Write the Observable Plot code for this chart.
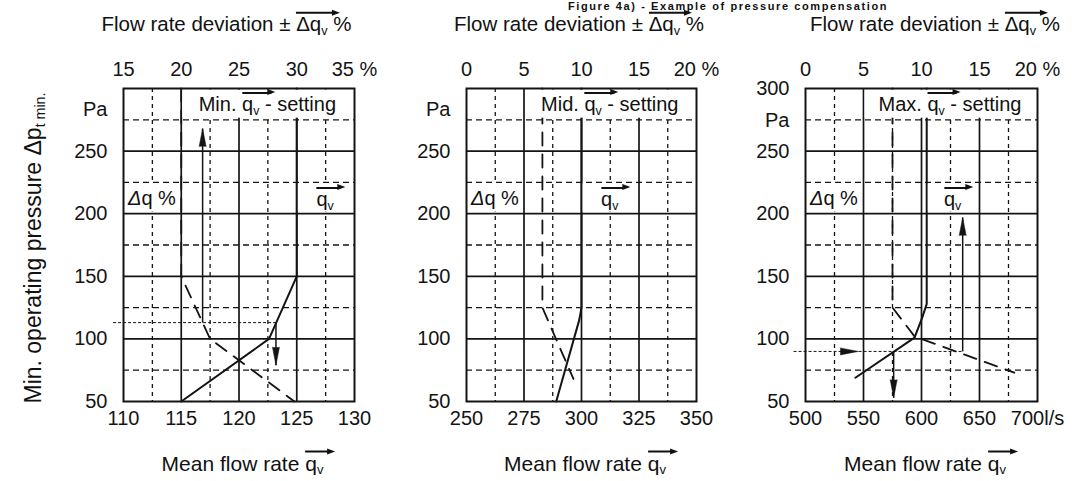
<!DOCTYPE html>
<html>
<head>
<meta charset="utf-8">
<script src="https://cdn.jsdelivr.net/npm/d3@7"></script>
<script src="https://cdn.jsdelivr.net/npm/@observablehq/plot@0.6"></script>
<style>
  body { margin: 0; background: #fff; }
  #root { position: relative; width: 1077px; height: 481px; overflow: hidden;
          font-family: "Liberation Sans", Arial, Helvetica, sans-serif; color: #111; background: #fff; }
  #root svg { position: absolute; top: 0; }
  .lbl { position: absolute; white-space: nowrap; line-height: 1; }
  .ov { position: relative; display: inline-block; }
  .ov::before { content: ""; position: absolute; left: 0; right: -6px; top: -2px; border-top: 2px solid #111; }
  .ov::after { content: ""; position: absolute; right: -12px; top: -4.5px; border-left: 8px solid #111;
               border-top: 3.5px solid transparent; border-bottom: 3.5px solid transparent; }
  .ov.tight::before { right: 0; }
  .ov.tight::after { right: -4px; }
  sub { font-size: 62%; vertical-align: -0.3em; line-height: 0; }
</style>
</head>
<body>
<div id="root"></div>
<script>
// ---------------- DATA ----------------
const pressureTicks = [50, 100, 150, 200, 250];
const pressureTicksMax = [50, 100, 150, 200, 250, 300];

// Panel 1 : Min. setting
const minBottomTicks = [110, 115, 120, 125, 130];
const minBottomLabels = ["110", "115", "120", "125", "130"];
const minTopLabels = ["15", "20", "25", "30", "35 %"];
const minFlowQ = [115, 122.6, 125, 125];          // mean flow rate (l/s)
const minFlowP = [50, 100, 150, 300];             // Pa
const minDevPct = [20, 20, 22.5, 29.8];           // flow rate deviation %
const minDevP = [300, 150, 100, 50];
const minGuides = [{ q1: 109.1, p1: 113, q2: 123.2, p2: 113 }];
const minArrows = [{ q1: 116.85, p1: 113, q2: 116.85, p2: 268 }, { q1: 123.2, p1: 113, q2: 123.2, p2: 79 }];
const minHeads = [{ q: 116.85, p: 268, dir: 0 }, { q: 123.2, p: 79, dir: 180 }];

// Panel 2 : Mid. setting
const midBottomTicks = [250, 275, 300, 325, 350];
const midBottomLabels = ["250", "275", "300", "325", "350"];
const midTopLabels = ["0", "5", "10", "15", "20 %"];
const midFlowQ = [289, 299, 300, 300];
const midFlowP = [50, 115, 125, 300];
const midDevPct = [6.6, 6.6, 9.3];
const midDevP = [300, 125, 68];

// Panel 3 : Max. setting
const maxBottomTicks = [500, 550, 600, 650, 700];
const maxBottomLabels = ["500", "550", "600", "650", "700l/s"];
const maxTopLabels = ["0", "5", "10", "15", "20 %"];
const maxFlowQ = [543, 594, 601, 604.5, 604.5];
const maxFlowP = [69, 101, 118, 128, 300];
const maxDevPct = [7.5, 7.5, 9.4, 18];
const maxDevP = [300, 125, 102, 73];
const maxGuides = [{ q1: 489.7, p1: 90, q2: 635.5, p2: 90 }];
const maxArrows = [{ q1: 576, p1: 90, q2: 576, p2: 53 }, { q1: 635.5, p1: 90, q2: 635.5, p2: 197 }];
const maxHeads = [{ q: 545.5, p: 90, dir: 90 }, { q: 576, p: 53, dir: 180 }, { q: 635.5, p: 197, dir: 0 }];

// annotation boxes (cells blanked for labels)
const minBoxes = [{ x1: 115, x2: 130, y1: 275, y2: 300, k: "title" }, { x1: 110, x2: 115, y1: 200, y2: 225, k: "dq" }, { x1: 125, x2: 130, y1: 200, y2: 225, k: "qv" }];
const midBoxes = [{ x1: 275, x2: 350, y1: 275, y2: 300, k: "title" }, { x1: 250, x2: 275, y1: 200, y2: 225, k: "dq" }, { x1: 300, x2: 325, y1: 200, y2: 225, k: "qv" }];
const maxBoxes = [{ x1: 550, x2: 700, y1: 275, y2: 300, k: "title" }, { x1: 500, x2: 550, y1: 200, y2: 225, k: "dq" }, { x1: 604.5, x2: 650, y1: 200, y2: 225, k: "qv" }];

// ---------------- RENDER ----------------
const FONT = '"Liberation Sans", Arial, Helvetica, sans-serif';
const INK = "#141414";
const root = document.getElementById("root");
const QV = '<span class="ov">q<sub>v</sub></span>';
const QVT = '<span class="ov tight">q<sub>v</sub> -</span>';
const DQV = '<span class="ov">Δq<sub>v</sub></span>';

function label(html, x, y, { anchor = "middle", size = 20, weight = 400, rotate = 0, spacing = 0 } = {}) {
  const d = document.createElement("div");
  d.className = "lbl";
  d.innerHTML = html;
  d.style.left = x + "px";
  d.style.top = y + "px";
  d.style.fontSize = size + "px";
  d.style.fontWeight = weight;
  if (spacing) d.style.letterSpacing = spacing + "px";
  const tx = anchor === "middle" ? "-50%" : anchor === "end" ? "-100%" : "0";
  d.style.transform = `translate(${tx},-50%)` + (rotate ? ` rotate(${rotate}deg)` : "");
  root.appendChild(d);
}

const panels = [
  { left: 0, width: 380, mL: 123, mR: 26, domain: [110, 130], pct: [15, 35],
    ticks: minBottomTicks, bl: minBottomLabels, tl: minTopLabels, yt: pressureTicks, paY: 283,
    fq: minFlowQ, fp: minFlowP, dpct: minDevPct, dp: minDevP,
    guides: minGuides, arrows: minArrows, heads: minHeads, boxes: minBoxes, name: "Min.", subDx: -12 },
  { left: 380, width: 340, mL: 86, mR: 24, domain: [250, 350], pct: [0, 20],
    ticks: midBottomTicks, bl: midBottomLabels, tl: midTopLabels, yt: pressureTicks, paY: 283,
    fq: midFlowQ, fp: midFlowP, dpct: midDevPct, dp: midDevP,
    guides: [], arrows: [], heads: [], boxes: midBoxes, name: "Mid.", subDx: -2 },
  { left: 720, width: 357, mL: 85, mR: 40, domain: [500, 700], pct: [0, 20],
    ticks: maxBottomTicks, bl: maxBottomLabels, tl: maxTopLabels, yt: pressureTicksMax, paY: 274,
    fq: maxFlowQ, fp: maxFlowP, dpct: maxDevPct, dp: maxDevP,
    guides: maxGuides, arrows: maxArrows, heads: maxHeads, boxes: maxBoxes, name: "Max.", subDx: 14 }
];

const mids = a => d3.pairs(a).map(([u, v]) => (u + v) / 2);

for (const P of panels) {
  const toQ = p => P.domain[0] + (p - P.pct[0]) * (P.domain[1] - P.domain[0]) / (P.pct[1] - P.pct[0]);
  const flow = P.fq.map((q, i) => ({ q, p: P.fp[i] }));
  const dev = P.dpct.map((pc, i) => ({ q: toQ(pc), p: P.dp[i] }));
  const majorX = P.ticks.slice(1, -1);
  const minorX = mids(P.ticks);
  const majorY = pressureTicks.slice(1);
  const minorY = mids([...pressureTicks, 300]);
  const idx = v => P.ticks.findIndex(t => Math.abs(t - v) < 1e-9);

  const chart = Plot.plot({
    width: P.width, height: 481,
    marginLeft: P.mL, marginRight: P.mR, marginTop: 88, marginBottom: 80,
    x: { domain: P.domain },
    y: { domain: [50, 300] },
    style: { fontFamily: FONT, fontSize: "20px", color: INK, background: "transparent", overflow: "visible" },
    marks: [
      Plot.ruleX(minorX, { stroke: INK, strokeWidth: 1.3, strokeDasharray: "4,4" }),
      Plot.ruleY(minorY, { stroke: INK, strokeWidth: 1.3, strokeDasharray: "6,4" }),
      Plot.ruleX(majorX, { stroke: INK, strokeWidth: 1.7 }),
      Plot.ruleY(majorY, { stroke: INK, strokeWidth: 1.7 }),
      Plot.line(flow, { x: "q", y: "p", stroke: INK, strokeWidth: 2 }),
      Plot.line(dev, { x: "q", y: "p", stroke: INK, strokeWidth: 1.8, strokeDasharray: "13,9" }),
      Plot.link(P.guides, { x1: "q1", y1: "p1", x2: "q2", y2: "p2", stroke: INK, strokeWidth: 1, strokeDasharray: "3,2" }),
      Plot.link(P.arrows, { x1: "q1", y1: "p1", x2: "q2", y2: "p2", stroke: INK, strokeWidth: 1.5 }),
      Plot.vector(P.heads, { x: "q", y: "p", rotate: "dir", length: 18, r: 3.5, shape: "spike", anchor: "end", fill: INK, stroke: INK, strokeWidth: 0.5 }),
      Plot.rect(P.boxes, { x1: "x1", x2: "x2", y1: "y1", y2: "y2", fill: "white", inset: 1.6 }),
      Plot.frame({ stroke: INK, strokeWidth: 2 }),
      Plot.axisX({ anchor: "bottom", ticks: P.ticks, tickFormat: v => P.bl[idx(v)], tickSize: 0, tickPadding: 9, label: null }),
      Plot.axisX({ anchor: "top", ticks: P.ticks, tickFormat: v => P.tl[idx(v)], tickSize: 0, tickPadding: 13, label: null }),
      Plot.axisY({ ticks: P.yt, tickSize: 0, tickPadding: 16, label: null }),
      Plot.text([{ t: "Pa", p: P.paY }], { y: "p", text: "t", frameAnchor: "left", dx: -16, textAnchor: "end" })
    ]
  });
  chart.style.left = P.left + "px";
  root.appendChild(chart);

  const sx = chart.scale("x"), sy = chart.scale("y");
  const X = v => P.left + sx.apply(v);
  const Y = v => sy.apply(v);
  const cx = (X(P.domain[0]) + X(P.domain[1])) / 2;

  label(`Flow rate deviation ± ${DQV} %`, cx + P.subDx, 24, { size: 20.5 });
  label(`Mean flow rate ${QV}`, cx + 4, 463, { size: 21 });

  for (const b of P.boxes) {
    const yc = (Y(b.y1) + Y(b.y2)) / 2;
    if (b.k === "title") label(`${P.name} ${QVT} setting`, (X(b.x1) + X(b.x2)) / 2, yc, { size: 20 });
    if (b.k === "dq") label(`<i>Δ</i>q %`, X(b.x1) + 5, yc, { anchor: "start", size: 20 });
    if (b.k === "qv") label(QV, (X(b.x1) + X(b.x2)) / 2, yc + 1, { size: 20 });
  }
}

label('Min. operating pressure Δp<sub>t min.</sub>', 33, 248, { size: 23, rotate: -90 });
label('Figure 4a) - Example of pressure compensation', 728, 5.5, { size: 11, weight: 700, spacing: 1.6 });
</script>
</body>
</html>
